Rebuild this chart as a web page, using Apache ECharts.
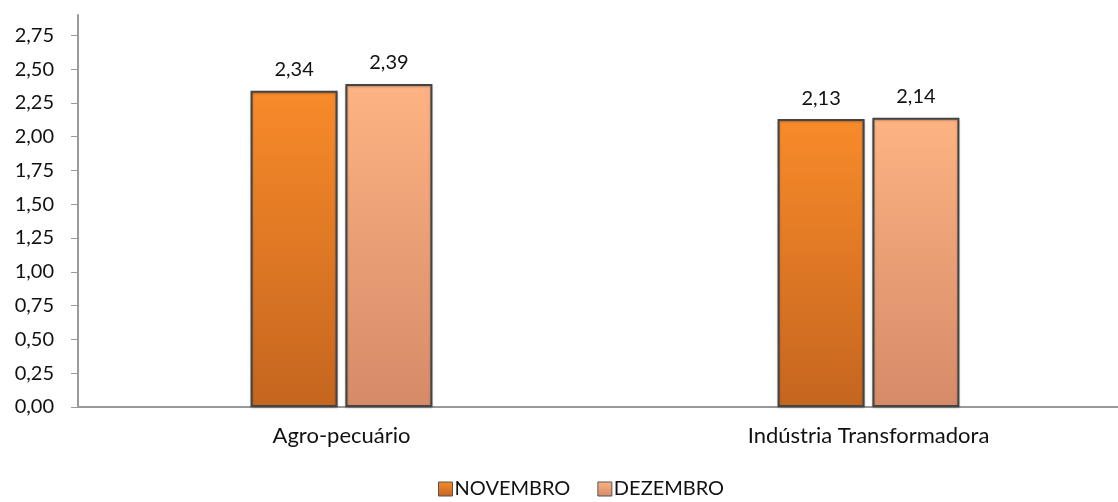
<!DOCTYPE html>
<html>
<head>
<meta charset="utf-8">
<script src="https://cdn.jsdelivr.net/npm/echarts@6/dist/echarts.min.js"></script>
<style>
  html, body { margin: 0; padding: 0; background: #fff; }
  #chart { width: 1118px; height: 502px; }
</style>
</head>
<body>
<div id="chart"></div>
<script>
  const categories = ['Agro-pecuário', 'Indústria Transformadora'];
  const seriesNames = ['NOVEMBRO', 'DEZEMBRO'];
  const novembro = [2.34, 2.13];
  const dezembro = [2.39, 2.14];
  const yTicks = [0, 0.25, 0.5, 0.75, 1, 1.25, 1.5, 1.75, 2, 2.25, 2.5, 2.75];

  const font = 'Lato, "Open Sans", sans-serif';
  const fmt = v => v.toFixed(2).replace('.', ',');

  function grad(top, bottom) {
    return new echarts.graphic.LinearGradient(0, 0, 0, 1, [
      {offset: 0, color: top},
      {offset: 1, color: bottom}
    ]);
  }

  const colors = [
    grad('#f88b2a', '#c5651f'),
    grad('#fdb382', '#d58b68')
  ];

  const chart = echarts.init(document.getElementById('chart'));

  function makeSeries(name, data, color) {
    return {
      name: name,
      type: 'bar',
      data: data,
      barWidth: 87,
      barGap: '9%',
      itemStyle: {
        color: color,
        borderColor: '#444',
        borderWidth: 2,
        shadowColor: 'rgba(0,0,0,0.25)',
        shadowBlur: 2,
        shadowOffsetY: 1
      },
      label: {
        show: true,
        position: 'top',
        distance: 11,
        color: '#111',
        fontFamily: font,
        fontSize: 20,
        formatter: p => fmt(p.value)
      }
    };
  }

  chart.setOption({
    animation: false,
    grid: {left: 78, width: 1054, top: 15, bottom: 95, outerBoundsMode: 'none'},
    legend: {
      top: 474,
      left: 433,
      itemWidth: 14,
      itemHeight: 14,
      itemGap: 27,
      icon: 'rect',
      textStyle: {fontFamily: font, fontSize: 20, color: '#111', padding: [0, 0, 0, -3]},
      data: seriesNames.map((n, i) => ({
        name: n,
        itemStyle: {color: colors[i], borderColor: '#555', borderWidth: 1}
      }))
    },
    xAxis: {
      type: 'category',
      data: categories,
      axisLine: {lineStyle: {color: '#999', width: 2}},
      axisTick: {show: false},
      axisLabel: {fontFamily: font, fontSize: 22, color: '#111', margin: 18}
    },
    yAxis: {
      type: 'value',
      min: 0,
      max: 2.9,
      interval: 0.25,
      splitLine: {show: false},
      axisLine: {show: true, lineStyle: {color: '#999', width: 2}},
      axisTick: {show: true, length: 7, lineStyle: {color: '#999'}, customValues: yTicks},
      axisLabel: {
        fontFamily: font, fontSize: 20, color: '#111', margin: 24,
        customValues: yTicks,
        formatter: v => fmt(v)
      }
    },
    series: [
      makeSeries(seriesNames[0], novembro, colors[0]),
      makeSeries(seriesNames[1], dezembro, colors[1])
    ]
  });
</script>
</body>
</html>
